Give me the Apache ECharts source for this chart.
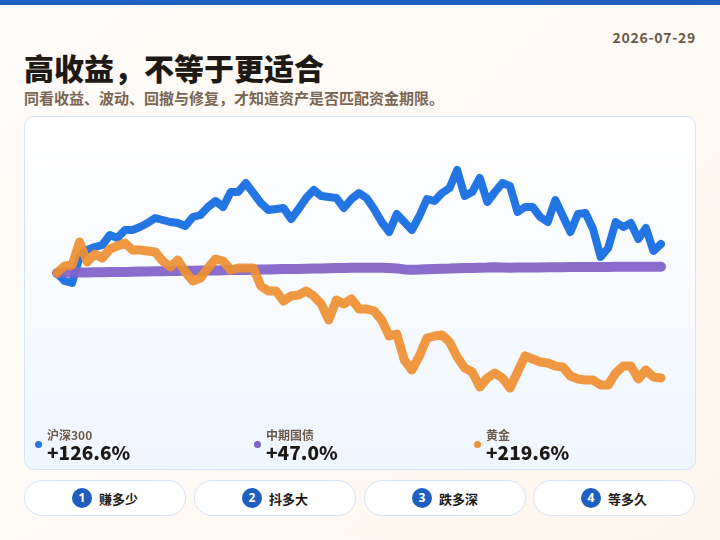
<!DOCTYPE html>
<html><head><meta charset="utf-8">
<script src="https://cdn.jsdelivr.net/npm/echarts@6/dist/echarts.min.js"></script>
<style>
html,body{margin:0;padding:0;width:720px;height:540px;overflow:hidden;}
body{background:linear-gradient(135deg,#fefcf9 0%,#fdf6ee 100%);font-family:"Noto Sans CJK SC","Noto Sans",sans-serif;position:relative;}
#bar{position:absolute;left:0;top:0;width:720px;height:5px;background:#1f5fbf;}
.abs{position:absolute;white-space:nowrap;}
#date{right:24px;top:29px;font-size:14px;line-height:16px;font-weight:700;color:#6b5a4a;letter-spacing:0.7px;}
#title{left:24px;top:50px;font-size:30px;line-height:34px;font-weight:900;color:#1e1915;}
#sub{left:24px;top:89px;font-size:15px;line-height:18px;font-weight:700;color:#7a6552;}
#card{position:absolute;left:24px;top:116px;width:670px;height:352px;border:1px solid #d5e3f6;border-radius:10px;background:linear-gradient(180deg,#ffffff 0%,#f0f6ff 100%);}
#chart{position:absolute;left:24px;top:116px;width:672px;height:354px;}
.lg{position:absolute;top:428px;}
.lg .dot{position:absolute;left:-12px;top:13px;width:7px;height:7px;border-radius:50%;}
.lg .nm{font-size:12px;line-height:14px;color:#6b5a4a;font-weight:700;}
.lg .val{font-size:19px;line-height:22px;font-weight:900;color:#1e1915;margin-top:-1px;}
.btn{position:absolute;top:480px;height:34px;border:1px solid #d5e3f6;border-radius:18px;background:#fff;display:flex;align-items:center;justify-content:center;gap:7px;font-size:13px;font-weight:700;color:#1e1915;}
.btn .num{width:20px;height:20px;border-radius:50%;background:#1f5fbf;color:#fff;font-size:12px;line-height:20px;text-align:center;font-family:"Noto Sans",sans-serif;}
</style></head>
<body>
<div id="bar"></div>
<div id="date" class="abs">2026-07-29</div>
<div id="title" class="abs">高收益，不等于更适合</div>
<div id="sub" class="abs">同看收益、波动、回撤与修复，才知道资产是否匹配资金期限。</div>
<div id="card"></div>
<div id="chart"></div>
<div id="legend"></div>
<div id="buttons"></div>
<script>
// series names, colours and total return labels
const seriesNames = ["沪深300", "中期国债", "黄金"];
const seriesColors = ["#2475e4", "#7f62c8", "#ee9033"];
const totalLabels = ["+126.6%", "+47.0%", "+219.6%"];
const buttonLabels = ["赚多少", "抖多大", "跌多深", "等多久"];

// normalised path values (relative index level, start = 0)
const hs300 = [0,-8,-10,16,23,26,28,38,35,43,43,46,50,55,53,51,50,47,56,58,66,72,66,81,81,90,80,70,63,64,65,54,64,75,83,77,76,75,65,74,80,75,64,51,41,59,51,43,57,74,72,80,85,103,77,81,95,71,81,90,87,61,66,66,56,51,73,57,41,59,60,44,16,25,51,46,50,34,45,22,29];
const bond = [0,0.2,0.4,0.5,0.6,0.7,0.8,0.9,1,1.1,1.2,1.4,1.6,1.7,1.8,2,2.1,2.2,2.3,2.4,2.5,2.6,2.8,2.9,3,3.1,3.3,3.5,3.6,3.8,4,4,4.1,4.3,4.5,4.6,4.8,5,5.1,5.2,5.3,5.3,5.3,5.2,5,4.6,3.6,3.2,3.4,3.8,4,4.2,4.4,4.8,5,5.1,5.2,5.4,5.8,5.5,5.3,5.4,5.5,5.5,5.6,5.7,5.8,5.8,5.9,5.9,6,6,6.1,6.1,6.2,6.2,6.3,6.3,6.2,6.2,6.2];
const gold = [0,7,8,31,11,19,15,24,27,30,23,23,22,21,12,6,13,1,-8,-5,5,14,12,3,5,5,5,-13,-18,-18,-28,-23,-22,-18,-23,-31,-47,-27,-31,-26,-36,-36,-38,-47,-63,-61,-87,-97,-83,-65,-63,-62,-69,-84,-95,-99,-114,-105,-100,-105,-115,-99,-83,-86,-89,-90,-93,-94,-103,-106,-107,-107,-112,-112,-100,-93,-93,-106,-97,-104,-105];
const days = hs300.map((_, i) => i + 1);
const lineWidths = [8, 10, 9];

const chart = echarts.init(document.getElementById('chart'), null, {renderer: 'canvas'});
const allData = [hs300, bond, gold];
chart.setOption({
  animation: false,
  grid: {left: 33, right: 35, top: 37, height: 250},
  xAxis: {type: 'category', data: days, boundaryGap: false, show: false},
  yAxis: {type: 'value', min: -130, max: 120, show: false},
  series: allData.map((d, k) => ({
    name: seriesNames[k], type: 'line', data: d, showSymbol: false, symbol: 'none',
    lineStyle: {color: seriesColors[k], width: lineWidths[k], opacity: k === 0 ? 1 : 0.93, cap: 'round', join: 'round'},
    z: k + 2
  }))
});

// legend
const legendLeft = [47, 266, 486];
const lg = document.getElementById('legend');
seriesNames.forEach((n, k) => {
  const d = document.createElement('div');
  d.className = 'lg';
  d.style.left = legendLeft[k] + 'px';
  d.innerHTML = '<div class="dot" style="background:' + seriesColors[k] + '"></div><div class="nm">' + n + '</div><div class="val">' + totalLabels[k] + '</div>';
  lg.appendChild(d);
});
// buttons
const bLeft = [24, 194, 364, 533];
const bw = 162;
const bt = document.getElementById('buttons');
buttonLabels.forEach((t, k) => {
  const d = document.createElement('div');
  d.className = 'btn';
  d.style.left = bLeft[k] + 'px';
  d.style.width = (bw - 2) + 'px';
  d.innerHTML = '<span class="num">' + (k + 1) + '</span><span>' + t + '</span>';
  bt.appendChild(d);
});
</script>
</body></html>
